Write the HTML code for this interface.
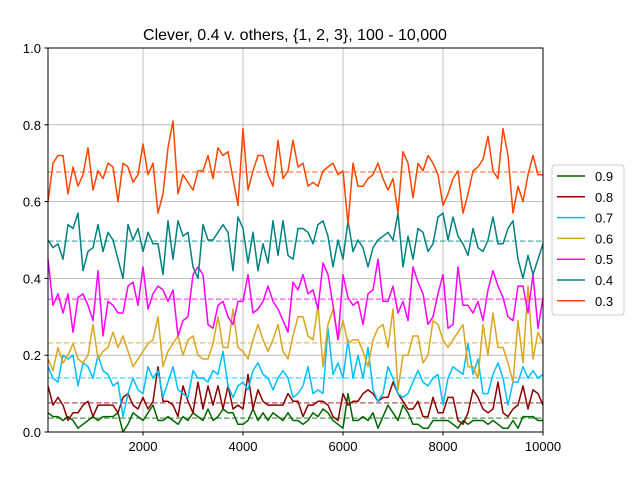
<!DOCTYPE html>
<html><head><meta charset="utf-8"><style>
body{margin:0;background:#fff;}
svg text{font-family:"Liberation Sans","DejaVu Sans",sans-serif;}
</style></head><body>
<svg id="chart" width="640" height="480" viewBox="0 0 640 480" xmlns="http://www.w3.org/2000/svg">
<rect width="640" height="480" fill="#fff"/>
<text x="295" y="40" text-anchor="middle" font-size="16">Clever, 0.4 v. others, {1, 2, 3}, 100 - 10,000</text>
<g id="grid"></g>
<g id="means"></g>
<g id="lines"></g>
<rect x="48" y="48" width="495" height="384" fill="none" stroke="#000" stroke-width="1"/>
<g id="axes"></g>
<g id="legend"></g>
</svg>
<script>
const labels = ["0.9","0.8","0.7","0.6","0.5","0.4","0.3"];
const colors = ["#006400","#8b0000","#00bfff","#daa520","#ff00ff","#008080","#ff4500"];
const means = [0.036,0.076,0.141,0.232,0.346,0.497,0.677];
const xTicks = [2000,4000,6000,8000,10000];
const yTicks = [0.0,0.2,0.4,0.6,0.8,1.0];
const s09 = [0.05,0.04,0.04,0.03,0.04,0.03,0.01,0.02,0.03,0.04,0.03,0.04,0.04,0.04,0.05,0.00,0.02,0.05,0.04,0.03,0.05,0.07,0.03,0.03,0.04,0.03,
 0.02,0.04,0.03,0.05,0.04,0.03,0.06,0.03,0.04,0.06,0.05,0.05,0.02,0.02,0.03,0.06,0.03,0.05,0.03,0.05,0.04,0.03,0.05,0.03,0.03,
 0.02,0.03,0.05,0.04,0.06,0.05,0.03,0.02,0.01,0.10,0.03,0.03,0.04,0.03,0.05,0.01,0.04,0.07,0.05,0.03,0.07,0.05,0.02,0.02,0.01,
 0.01,0.03,0.03,0.03,0.03,0.02,0.01,0.03,0.02,0.03,0.03,0.03,0.02,0.03,0.02,0.01,0.01,0.03,0.01,0.04,0.04,0.04,0.03,0.03];
const s08 = [0.12,0.07,0.09,0.07,0.03,0.05,0.05,0.07,0.08,0.04,0.07,0.07,0.07,0.07,0.05,0.09,0.10,0.07,0.06,0.09,0.06,0.08,0.17,0.08,0.08,0.07,
 0.04,0.12,0.08,0.05,0.13,0.06,0.12,0.07,0.12,0.06,0.12,0.06,0.07,0.06,0.15,0.06,0.11,0.08,0.07,0.07,0.07,0.07,0.10,0.08,0.08,
 0.04,0.07,0.07,0.08,0.08,0.07,0.04,0.03,0.10,0.07,0.08,0.08,0.10,0.11,0.10,0.08,0.09,0.09,0.13,0.10,0.08,0.06,0.06,0.08,0.04,
 0.04,0.09,0.05,0.05,0.09,0.09,0.03,0.02,0.05,0.11,0.09,0.06,0.05,0.06,0.13,0.05,0.04,0.06,0.07,0.12,0.06,0.11,0.10,0.07];
const s07 = [0.17,0.14,0.13,0.20,0.19,0.20,0.12,0.18,0.17,0.14,0.20,0.16,0.15,0.12,0.13,0.04,0.10,0.14,0.11,0.10,0.17,0.14,0.16,0.09,0.13,0.17,
 0.11,0.10,0.09,0.16,0.14,0.14,0.13,0.16,0.15,0.21,0.12,0.09,0.12,0.13,0.11,0.16,0.18,0.15,0.14,0.11,0.14,0.16,0.14,0.09,0.10,
 0.12,0.17,0.10,0.11,0.10,0.27,0.15,0.18,0.14,0.24,0.14,0.20,0.14,0.22,0.11,0.08,0.10,0.17,0.14,0.10,0.09,0.10,0.13,0.16,0.13,
 0.12,0.14,0.15,0.07,0.14,0.17,0.16,0.15,0.23,0.15,0.19,0.10,0.10,0.15,0.18,0.14,0.07,0.13,0.13,0.17,0.14,0.16,0.14,0.15];
const s06 = [0.19,0.16,0.22,0.18,0.20,0.23,0.19,0.18,0.20,0.28,0.19,0.21,0.22,0.26,0.22,0.25,0.21,0.17,0.19,0.21,0.23,0.24,0.30,0.17,0.21,0.23,
 0.25,0.20,0.24,0.25,0.20,0.19,0.19,0.23,0.30,0.22,0.22,0.32,0.22,0.21,0.19,0.24,0.28,0.24,0.21,0.24,0.28,0.21,0.19,0.25,0.30,
 0.30,0.25,0.24,0.33,0.17,0.28,0.32,0.24,0.29,0.23,0.24,0.24,0.21,0.17,0.24,0.27,0.28,0.22,0.32,0.11,0.20,0.20,0.25,0.25,0.18,
 0.20,0.29,0.28,0.24,0.22,0.24,0.26,0.28,0.17,0.17,0.14,0.28,0.20,0.31,0.22,0.22,0.18,0.13,0.29,0.18,0.38,0.19,0.26,0.23];
const s05 = [0.45,0.33,0.36,0.31,0.36,0.26,0.35,0.36,0.33,0.29,0.42,0.25,0.34,0.33,0.31,0.31,0.38,0.39,0.33,0.43,0.32,0.36,0.38,0.37,0.34,0.37,
 0.25,0.29,0.30,0.41,0.43,0.41,0.28,0.27,0.33,0.34,0.30,0.28,0.34,0.34,0.41,0.31,0.32,0.34,0.38,0.34,0.32,0.29,0.26,0.39,0.37,
 0.41,0.36,0.37,0.32,0.44,0.41,0.33,0.24,0.41,0.35,0.33,0.34,0.28,0.36,0.37,0.45,0.34,0.34,0.38,0.31,0.34,0.29,0.43,0.39,0.36,
 0.28,0.30,0.36,0.41,0.27,0.28,0.43,0.33,0.33,0.31,0.34,0.29,0.37,0.42,0.38,0.35,0.30,0.29,0.38,0.38,0.31,0.41,0.27,0.35];
const s04 = [0.50,0.48,0.49,0.45,0.54,0.53,0.57,0.42,0.47,0.48,0.54,0.47,0.52,0.50,0.45,0.40,0.54,0.50,0.53,0.47,0.52,0.49,0.49,0.41,0.55,0.45,
 0.55,0.51,0.52,0.43,0.40,0.54,0.50,0.50,0.52,0.54,0.52,0.42,0.56,0.53,0.44,0.52,0.42,0.49,0.44,0.55,0.46,0.55,0.46,0.45,0.53,
 0.53,0.52,0.49,0.54,0.55,0.51,0.43,0.50,0.45,0.55,0.47,0.50,0.48,0.43,0.48,0.50,0.51,0.52,0.50,0.57,0.43,0.51,0.45,0.53,0.52,
 0.47,0.49,0.56,0.57,0.50,0.56,0.51,0.49,0.46,0.53,0.48,0.47,0.50,0.56,0.49,0.49,0.53,0.55,0.45,0.40,0.46,0.41,0.45,0.49];
const s03 = [0.60,0.70,0.72,0.72,0.62,0.69,0.64,0.67,0.74,0.63,0.68,0.66,0.70,0.69,0.60,0.70,0.69,0.65,0.67,0.75,0.67,0.70,0.57,0.62,0.74,0.81,
 0.62,0.67,0.65,0.63,0.68,0.68,0.72,0.66,0.74,0.72,0.73,0.66,0.59,0.79,0.63,0.68,0.72,0.72,0.67,0.64,0.76,0.66,0.68,0.76,0.69,
 0.70,0.64,0.65,0.64,0.68,0.69,0.70,0.67,0.68,0.54,0.70,0.64,0.64,0.66,0.67,0.70,0.66,0.63,0.66,0.57,0.73,0.70,0.61,0.70,0.68,
 0.72,0.70,0.67,0.59,0.62,0.66,0.68,0.57,0.62,0.68,0.69,0.71,0.77,0.68,0.66,0.79,0.72,0.57,0.64,0.60,0.67,0.72,0.67,0.67];
const series = [s09,s08,s07,s06,s05,s04,s03];
const NS="http://www.w3.org/2000/svg";
const X0=48,X1=543,Y0=432,Y1=48;
function xs(v){return X0+(v-100)/(10000-100)*(X1-X0);}
function ys(v){return Y0-v*(Y0-Y1);}
function mk(tag,attrs,parent){const e=document.createElementNS(NS,tag);for(const k in attrs)e.setAttribute(k,attrs[k]);parent.appendChild(e);return e;}
const grid=document.getElementById('grid'),axes=document.getElementById('axes'),meansG=document.getElementById('means'),linesG=document.getElementById('lines'),leg=document.getElementById('legend');
xTicks.forEach(t=>{const x=xs(t);
 const g=mk('line',{x1:x,x2:x,y1:Y1,y2:Y0,stroke:'#b0b0b0','stroke-width':0.8},grid);
 
 
 mk('line',{x1:x,x2:x,y1:Y0,y2:Y0+3.5,stroke:'#000'},axes);
 const tx=mk('text',{x:x,y:Y0+19,'text-anchor':'middle','font-size':13},axes);tx.textContent=String(t);
 
 
});
yTicks.forEach(t=>{const y=ys(t);
 const g=mk('line',{x1:X0,x2:X1,y1:y,y2:y,stroke:'#b0b0b0','stroke-width':0.8},grid);
 
 
 mk('line',{x1:X0-3.5,x2:X0,y1:y,y2:y,stroke:'#000'},axes);
 const tx=mk('text',{x:X0-7,y:y+5,'text-anchor':'end','font-size':13},axes);tx.textContent=t.toFixed(1);
 
 
});
means.forEach((m,i)=>{
 const l=mk('line',{x1:X0,x2:X1,y1:ys(m),y2:ys(m),stroke:colors[i],'stroke-opacity':0.55,'stroke-width':1.5,'stroke-dasharray':'5.5,2.5'},meansG);
 
 
});
series.forEach((s,i)=>{
 const pts=s.map((v,j)=>xs(100+j*100).toFixed(1)+','+ys(v).toFixed(1)).join(' ');
 const p=mk('polyline',{points:pts,fill:'none',stroke:colors[i],'stroke-width':1.5,'stroke-linejoin':'round'},linesG);
 
 
});
const lb=mk('rect',{x:552,y:165,width:72,height:150,fill:'#fff',stroke:'#ccc',rx:3},leg);


labels.forEach((lab,i)=>{const y=176+i*20.8;
 const g=mk('g',{},leg);
 
 
 mk('line',{x1:557,x2:585,y1:y,y2:y,stroke:colors[i],'stroke-width':1.5},g);
 const t=mk('text',{x:595,y:y+5,'font-size':13},g);t.textContent=lab;
});
</script>
</body></html>
